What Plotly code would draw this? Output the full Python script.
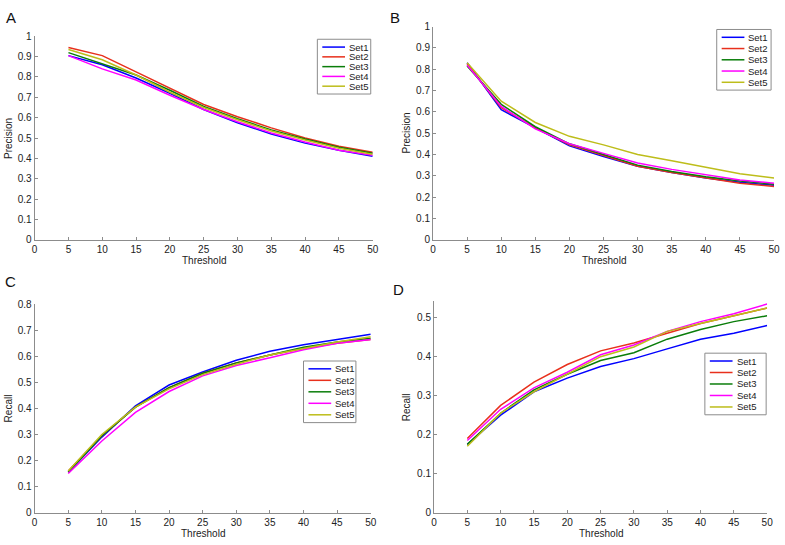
import plotly.graph_objects as go

thresholds = [5, 10, 15, 20, 25, 30, 35, 40, 45, 50]
set_names = ["Set1", "Set2", "Set3", "Set4", "Set5"]
set_colors = ["#0000ff", "#e8301c", "#0a7d0a", "#ff00ff", "#bdbd1a"]

# panel A - precision
prec_a = [
    [0.905, 0.86, 0.795, 0.72, 0.64, 0.575, 0.52, 0.475, 0.44, 0.41],
    [0.945, 0.905, 0.825, 0.745, 0.665, 0.605, 0.55, 0.50, 0.46, 0.43],
    [0.92, 0.865, 0.81, 0.735, 0.655, 0.595, 0.54, 0.495, 0.455, 0.425],
    [0.905, 0.84, 0.785, 0.71, 0.64, 0.58, 0.525, 0.48, 0.44, 0.415],
    [0.935, 0.885, 0.81, 0.725, 0.65, 0.59, 0.535, 0.49, 0.45, 0.42],
]
# panel B - precision
prec_b = [
    [0.83, 0.61, 0.525, 0.44, 0.39, 0.345, 0.315, 0.29, 0.27, 0.255],
    [0.825, 0.62, 0.525, 0.445, 0.395, 0.345, 0.315, 0.29, 0.265, 0.25],
    [0.815, 0.635, 0.53, 0.45, 0.40, 0.35, 0.32, 0.295, 0.275, 0.26],
    [0.82, 0.625, 0.52, 0.45, 0.405, 0.36, 0.33, 0.305, 0.28, 0.265],
    [0.83, 0.65, 0.55, 0.485, 0.445, 0.40, 0.37, 0.34, 0.31, 0.29],
]
# panel C - recall
recall_c = [
    [0.155, 0.29, 0.41, 0.49, 0.54, 0.585, 0.62, 0.645, 0.665, 0.685],
    [0.16, 0.295, 0.405, 0.48, 0.535, 0.575, 0.605, 0.63, 0.65, 0.665],
    [0.155, 0.295, 0.405, 0.48, 0.535, 0.575, 0.605, 0.635, 0.655, 0.67],
    [0.15, 0.275, 0.385, 0.465, 0.525, 0.565, 0.595, 0.625, 0.65, 0.665],
    [0.16, 0.30, 0.405, 0.475, 0.53, 0.57, 0.605, 0.63, 0.655, 0.675],
]
# panel D - recall
recall_d = [
    [0.175, 0.25, 0.31, 0.345, 0.375, 0.395, 0.42, 0.445, 0.46, 0.48],
    [0.19, 0.275, 0.335, 0.38, 0.415, 0.435, 0.46, 0.485, 0.505, 0.525],
    [0.175, 0.255, 0.315, 0.355, 0.39, 0.41, 0.445, 0.47, 0.49, 0.505],
    [0.185, 0.265, 0.32, 0.36, 0.405, 0.43, 0.465, 0.49, 0.51, 0.535],
    [0.17, 0.255, 0.31, 0.355, 0.40, 0.425, 0.465, 0.485, 0.505, 0.525],
]

W, H = 785, 545
FONT = "Liberation Sans, Arial, sans-serif"
GREY = "#8c8c8c"
TXT = "#222"


def px_x(p):
    return p / W


def px_y(p):
    return 1 - p / H


# (letter, data, x-pixels, y-pixels, y range, legend box, letter pos, y title)
panels = [
    ("A", prec_a, (32, 374), (31, 239), [0, 1], (318, 34, 372, 90), (8, 12), "Precision"),
    ("B", prec_b, (435, 780), (21, 239), [0, 1], (722, 24, 777, 86), (397, 12), "Precision"),
    ("C", recall_c, (32, 372), (305, 518), [0, 0.8], (304, 363, 357, 426), (8, 282), "Recall"),
    ("D", recall_d, (436, 773), (302, 518), [0, 0.542], (710, 355, 772, 418), (400, 290), "Recall"),
]

fig = go.Figure()
annotations = []
shapes = []
layout = {}

for i, (letter, data, xp, yp, yrange, box, lab, ytitle) in enumerate(panels):
    sfx = "" if i == 0 else str(i + 1)
    for name, color, vals in zip(set_names, set_colors, data):
        fig.add_trace(go.Scatter(
            x=thresholds, y=vals, name=name, mode="lines",
            line=dict(color=color, width=1.5),
            xaxis="x" + sfx, yaxis="y" + sfx, showlegend=False,
        ))
    axis_common = dict(
        showline=True, linecolor=GREY, linewidth=1,
        ticks="inside", ticklen=3, tickcolor=GREY,
        showgrid=False, zeroline=False,
        tickfont=dict(family=FONT, size=10, color=TXT),
    )
    layout["xaxis" + sfx] = dict(
        domain=[px_x(xp[0]), px_x(xp[1])], range=[0, 50], dtick=5,
        anchor="y" + sfx, **axis_common,
    )
    layout["yaxis" + sfx] = dict(
        domain=[px_y(yp[1]), px_y(yp[0])], range=yrange, dtick=0.1,
        anchor="x" + sfx, **axis_common,
    )

    # MATLAB-style compact legend box
    x0, y0, x1, y1 = box
    shapes.append(dict(
        type="rect", xref="paper", yref="paper",
        x0=px_x(x0), x1=px_x(x1), y0=px_y(y1), y1=px_y(y0),
        line=dict(color=GREY, width=1), fillcolor="white", layer="above",
    ))
    step = (y1 - y0 - 16) / 4
    for k, (name, color) in enumerate(zip(set_names, set_colors)):
        ry = y0 + 8 + k * step
        shapes.append(dict(
            type="line", xref="paper", yref="paper",
            x0=px_x(x0 + 5), x1=px_x(x0 + 28), y0=px_y(ry), y1=px_y(ry),
            line=dict(color=color, width=1.5), layer="above",
        ))
        annotations.append(dict(
            x=px_x(x0 + 30), y=px_y(ry), xref="paper", yref="paper",
            text=name, showarrow=False, xanchor="left", yanchor="middle",
            font=dict(family=FONT, size=9.5, color=TXT),
        ))

    # panel letter
    annotations.append(dict(
        x=px_x(lab[0]), y=px_y(lab[1]), xref="paper", yref="paper",
        text=letter, showarrow=False, xanchor="center", yanchor="middle",
        font=dict(family=FONT, size=15, color="#111"),
    ))
    # x title
    annotations.append(dict(
        x=px_x((xp[0] + xp[1]) / 2), y=px_y(yp[1] + 21), xref="paper", yref="paper",
        text="Threshold", showarrow=False, xanchor="center", yanchor="middle",
        font=dict(family=FONT, size=10, color=TXT),
    ))
    # y title
    annotations.append(dict(
        x=px_x(xp[0] - 27), y=px_y((yp[0] + yp[1]) / 2), xref="paper", yref="paper",
        text=ytitle, showarrow=False, textangle=-90, xanchor="center", yanchor="middle",
        font=dict(family=FONT, size=10, color=TXT),
    ))

fig.update_layout(
    width=W, height=H,
    margin=dict(l=0, r=0, t=0, b=0),
    paper_bgcolor="white", plot_bgcolor="white",
    annotations=annotations, shapes=shapes,
    **layout,
)

fig.write_html("out.html", config={"displayModeBar": False},
               post_script="document.body.style.margin='0';")
